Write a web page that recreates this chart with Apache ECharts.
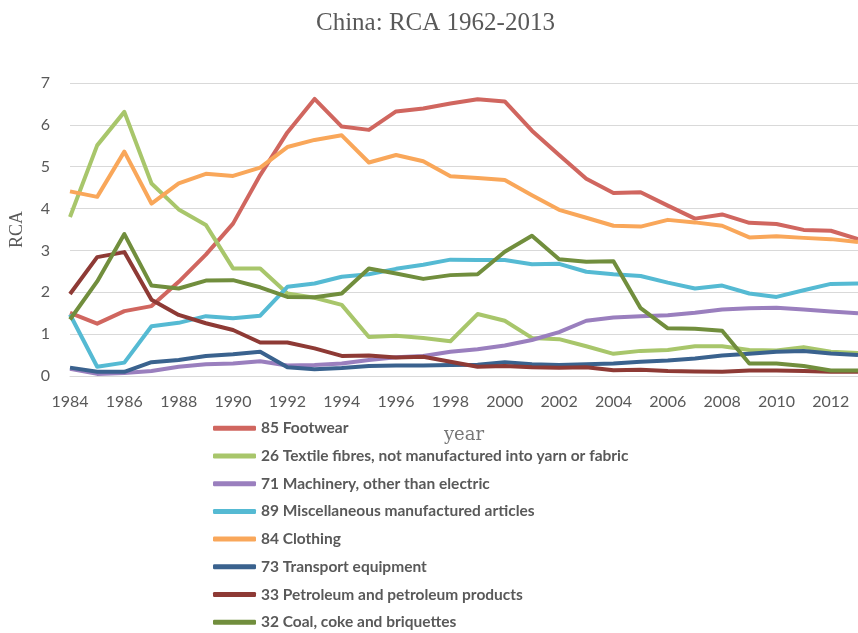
<!DOCTYPE html>
<html>
<head>
<meta charset="utf-8">
<script src="https://cdn.jsdelivr.net/npm/echarts@6/dist/echarts.min.js"></script>
<style>html,body{margin:0;padding:0;background:#fff;}#chart{width:858px;height:633px;}</style>
</head>
<body>
<div id="chart"></div>
<script>
const years = ['1984','1985','1986','1987','1988','1989','1990','1991','1992','1993','1994','1995','1996','1997','1998','1999','2000','2001','2002','2003','2004','2005','2006','2007','2008','2009','2010','2011','2012','2013'];
const footwear   = [1.51,1.25,1.55,1.67,2.25,2.90,3.64,4.80,5.82,6.62,5.96,5.88,6.32,6.39,6.51,6.61,6.56,5.86,5.28,4.71,4.37,4.39,4.07,3.76,3.86,3.66,3.63,3.49,3.47,3.27];
const textile    = [3.80,5.51,6.31,4.60,3.98,3.61,2.57,2.57,1.97,1.87,1.70,0.93,0.96,0.91,0.83,1.48,1.32,0.91,0.88,0.71,0.53,0.60,0.62,0.71,0.71,0.62,0.61,0.69,0.58,0.55];
const machinery  = [0.17,0.05,0.07,0.12,0.22,0.28,0.30,0.35,0.25,0.26,0.30,0.38,0.45,0.48,0.58,0.64,0.73,0.86,1.05,1.32,1.40,1.43,1.45,1.51,1.59,1.62,1.63,1.59,1.54,1.50];
const misc       = [1.47,0.22,0.32,1.19,1.27,1.43,1.38,1.44,2.13,2.21,2.37,2.43,2.56,2.66,2.78,2.77,2.77,2.67,2.68,2.49,2.43,2.39,2.23,2.09,2.16,1.97,1.89,2.05,2.20,2.21];
const clothing   = [4.41,4.28,5.36,4.12,4.60,4.83,4.78,4.98,5.47,5.64,5.75,5.10,5.28,5.13,4.77,4.73,4.68,4.32,3.97,3.78,3.59,3.57,3.73,3.67,3.59,3.31,3.34,3.30,3.27,3.20];
const transport  = [0.20,0.10,0.10,0.33,0.38,0.48,0.52,0.58,0.21,0.16,0.19,0.24,0.25,0.25,0.26,0.27,0.33,0.28,0.26,0.28,0.30,0.34,0.37,0.42,0.49,0.53,0.58,0.60,0.54,0.50];
const petroleum  = [1.96,2.84,2.96,1.82,1.46,1.26,1.10,0.80,0.80,0.66,0.48,0.49,0.44,0.46,0.34,0.22,0.24,0.21,0.20,0.21,0.14,0.15,0.12,0.11,0.10,0.13,0.13,0.12,0.10,0.10];
const coal       = [1.35,2.26,3.39,2.16,2.09,2.28,2.29,2.12,1.89,1.88,1.97,2.57,2.45,2.32,2.41,2.43,2.97,3.35,2.79,2.73,2.74,1.62,1.14,1.13,1.08,0.30,0.30,0.24,0.13,0.13];
const seriesNames = ['85 Footwear','26 Textile fibres, not manufactured into yarn or fabric','71 Machinery, other than electric','89 Miscellaneous manufactured articles','84 Clothing','73 Transport equipment','33 Petroleum and petroleum products','32 Coal, coke and briquettes'];
const seriesData = [footwear, textile, machinery, misc, clothing, transport, petroleum, coal];
const colors = ['#D0665F','#A8C66B','#9A7FBE','#55BAD3','#F9A75A','#3A628E','#8E3A35','#718E3D'];

const chart = echarts.init(document.getElementById('chart'));
chart.setOption({
  animation: false,
  color: colors,
  title: {
    text: 'China: RCA 1962-2013',
    left: 316,
    top: 11,
    padding: 0,
    textStyle: {fontFamily: 'Liberation Serif', fontWeight: 'normal', fontSize: 25, color: '#595959'}
  },
  grid: {left: 68, right: -9, top: 83, bottom: 257, containLabel: false},
  legend: {
    orient: 'vertical',
    left: 213,
    top: 420.3,
    padding: 0,
    height: 230,
    icon: 'roundRect',
    itemWidth: 43,
    itemHeight: 5,
    itemGap: 11.7,
    textStyle: {fontFamily: 'Lato', fontWeight: 'bold', fontSize: 15.5, color: '#595959', lineHeight: 16},
    data: seriesNames
  },
  xAxis: {
    type: 'category',
    data: years,
    boundaryGap: false,
    name: 'year',
    nameLocation: 'middle',
    nameGap: 50,
    nameTextStyle: {fontFamily: 'DejaVu Serif', fontSize: 18, color: '#777777'},
    axisLine: {show: true, lineStyle: {color: '#D9D9D9', width: 1}},
    axisTick: {show: false},
    axisLabel: {interval: 1, fontFamily: 'Lato', fontSize: 16, color: '#595959', margin: 18}
  },
  yAxis: {
    type: 'value',
    min: 0, max: 7, interval: 1,
    name: 'RCA',
    nameLocation: 'middle',
    nameRotate: 90,
    nameGap: 44,
    nameTextStyle: {fontFamily: 'Liberation Serif', fontSize: 18, color: '#595959'},
    axisLine: {show: false},
    axisTick: {show: false},
    axisLabel: {fontFamily: 'Lato', fontSize: 16, color: '#595959', margin: 20},
    splitLine: {lineStyle: {color: '#D9D9D9', width: 1}}
  },
  series: seriesNames.map((n, i) => ({
    name: n,
    type: 'line',
    data: seriesData[i],
    showSymbol: false,
    symbol: 'none',
    lineStyle: {width: 4, color: colors[i], join: 'round'},
    itemStyle: {color: colors[i]}
  }))
});
</script>
</body>
</html>
